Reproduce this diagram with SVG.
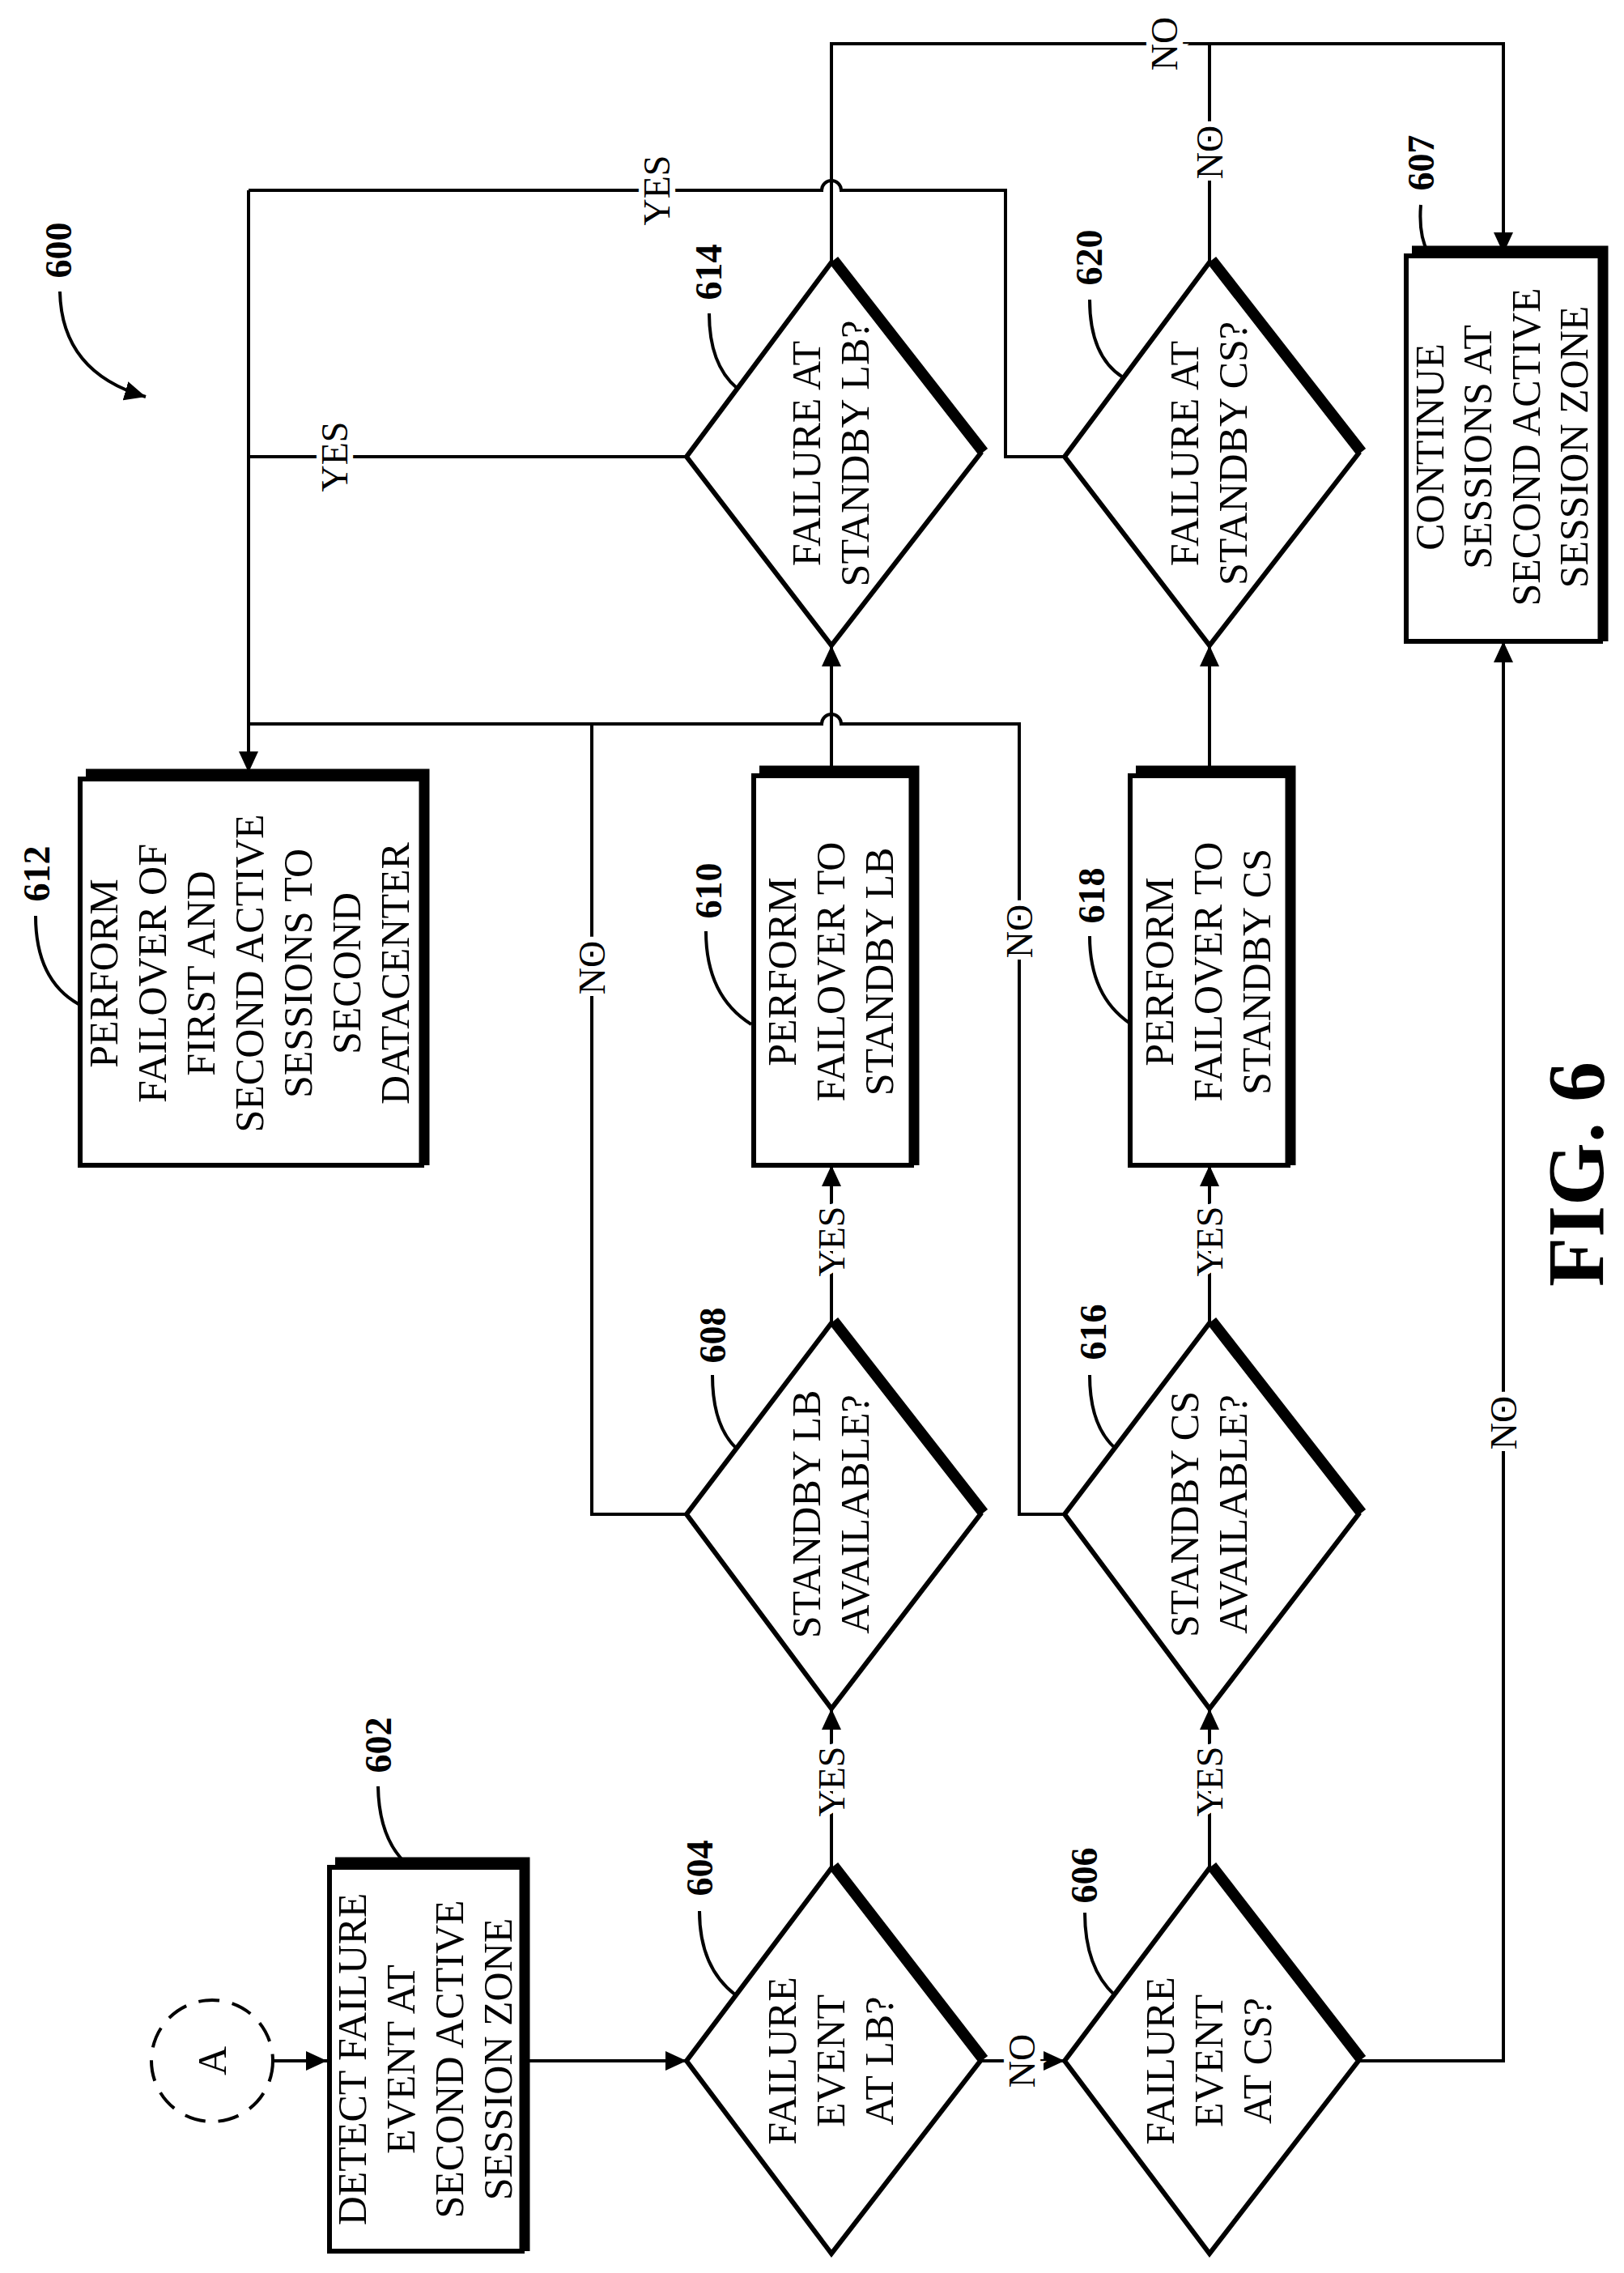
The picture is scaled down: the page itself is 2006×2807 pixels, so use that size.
<svg xmlns="http://www.w3.org/2000/svg" width="2006" height="2807" viewBox="0 0 2006 2807">
<style>
.t{font-family:"Liberation Serif","Times New Roman",serif;font-size:50px;fill:#000;text-anchor:middle;dominant-baseline:central}
.n{font-family:"Liberation Serif","Times New Roman",serif;font-size:46px;font-weight:bold;fill:#000;text-anchor:middle;dominant-baseline:central}
.l{font-family:"Liberation Serif","Times New Roman",serif;font-size:46px;fill:#000;text-anchor:middle;dominant-baseline:central;stroke:#fff;stroke-width:14px;paint-order:stroke}
.f{font-family:"Liberation Serif","Times New Roman",serif;font-size:100px;font-weight:bold;fill:#000;text-anchor:middle;dominant-baseline:central}
.b{fill:#fff;stroke:#000;stroke-width:6}
.s{fill:none;stroke:#000;stroke-width:13}
.c{fill:none;stroke:#000;stroke-width:4}
.ld{fill:none;stroke:#000;stroke-width:4}
</style>
<defs>
<marker id="ar" markerWidth="26" markerHeight="24" refX="26" refY="12" orient="auto" markerUnits="userSpaceOnUse"><path d="M0,0 L26,12 L0,24 Z" fill="#000"/></marker>
</defs>
<rect width="2006" height="2807" fill="#fff"/>

<g id="connectors">
<path class="c" d="M337,2545 H404" marker-end="url(#ar)"/>
<path class="c" d="M651,2545 H848" marker-end="url(#ar)"/>
<path class="c" d="M1211,2545 H1315" marker-end="url(#ar)"/>
<path class="c" d="M1027,2307 V2110" marker-end="url(#ar)"/>
<path class="c" d="M1494,2307 V2110" marker-end="url(#ar)"/>
<path class="c" d="M1027,1634 V1439" marker-end="url(#ar)"/>
<path class="c" d="M1494,1634 V1439" marker-end="url(#ar)"/>
<path class="c" d="M1027,958 V797" marker-end="url(#ar)"/>
<path class="c" d="M1494,958 V797" marker-end="url(#ar)"/>
<path class="c" d="M1678,2545 H1857 V792" marker-end="url(#ar)"/>
<path class="c" d="M1027,324 V54 H1857 V313" marker-end="url(#ar)"/>
<path class="c" d="M1494,324 V54"/>
<path class="c" d="M307,235 V954" marker-end="url(#ar)"/>
<path class="c" d="M848,564 H307"/>
<path class="c" d="M1315,564 H1242 V235 H1039 A12,12 0 0 0 1015,235 H307"/>
<path class="c" d="M848,1870 H731 V894"/>
<path class="c" d="M1315,1870 H1259 V894 H1039 A12,12 0 0 0 1015,894 H307"/>
<text class="l" transform="translate(811,235) rotate(-90)">YES</text>
<text class="l" transform="translate(413,564) rotate(-90)">YES</text>
<text class="l" transform="translate(1438,54) rotate(-90)">NO</text>
<text class="l" transform="translate(1494,188) rotate(-90)">NO</text>
<text class="l" transform="translate(731,1195) rotate(-90)">NO</text>
<text class="l" transform="translate(1259,1150) rotate(-90)">NO</text>
<text class="l" transform="translate(1027,1533) rotate(-90)">YES</text>
<text class="l" transform="translate(1494,1533) rotate(-90)">YES</text>
<text class="l" transform="translate(1027,2200) rotate(-90)">YES</text>
<text class="l" transform="translate(1494,2200) rotate(-90)">YES</text>
<text class="l" transform="translate(1262,2545) rotate(-90)">NO</text>
<text class="l" transform="translate(1857,1757) rotate(-90)">NO</text>
</g>

<g id="ref600">
<text class="n" transform="translate(72,309) rotate(-90)">600</text>
<path class="ld" d="M74,360 Q76,460 180,490" marker-end="url(#ar)"/>
</g>

<g id="nodeA">
<circle cx="262" cy="2545" r="75" fill="none" stroke="#000" stroke-width="4" stroke-dasharray="26,16"/>
<text class="t" transform="translate(262,2545) rotate(-90)">A</text>
</g>

<g id="n602">
<rect class="b" x="407" y="2306" width="238" height="474"/>
<path class="s" d="M414,2300 H648 V2780"/>
<text class="t" transform="translate(525,2543) rotate(-90)"><tspan x="0" y="-90">DETECT FAILURE</tspan><tspan x="0" y="-30">EVENT AT</tspan><tspan x="0" y="30">SECOND ACTIVE</tspan><tspan x="0" y="90">SESSION ZONE</tspan></text>
<text class="n" transform="translate(467,2155) rotate(-90)">602</text>
<path class="ld" d="M467,2206 Q468,2270 502,2302"/>
</g>

<g id="n604">
<path class="b" d="M1027,2307 L1211,2545 L1027,2783 L848,2545 Z"/>
<path class="s" d="M1030,2304 L1215,2543"/>
<text class="t" transform="translate(1026,2545) rotate(-90)"><tspan x="0" y="-60">FAILURE</tspan><tspan x="0" y="0">EVENT</tspan><tspan x="0" y="60">AT LB?</tspan></text>
<text class="n" transform="translate(864,2307) rotate(-90)">604</text>
<path class="ld" d="M864,2360 Q864,2430 909,2464"/>
</g>

<g id="n606">
<path class="b" d="M1494,2307 L1678,2545 L1494,2783 L1315,2545 Z"/>
<path class="s" d="M1497,2304 L1682,2543"/>
<text class="t" transform="translate(1493,2545) rotate(-90)"><tspan x="0" y="-60">FAILURE</tspan><tspan x="0" y="0">EVENT</tspan><tspan x="0" y="60">AT CS?</tspan></text>
<text class="n" transform="translate(1339,2316) rotate(-90)">606</text>
<path class="ld" d="M1340,2362 Q1340,2430 1377,2464"/>
</g>

<g id="n608">
<path class="b" d="M1027,1634 L1211,1870 L1027,2110 L848,1870 Z"/>
<path class="s" d="M1030,1631 L1215,1868"/>
<text class="t" transform="translate(1026,1870) rotate(-90)"><tspan x="0" y="-30">STANDBY LB</tspan><tspan x="0" y="30">AVAILABLE?</tspan></text>
<text class="n" transform="translate(880,1649) rotate(-90)">608</text>
<path class="ld" d="M880,1698 Q880,1760 909,1788"/>
</g>

<g id="n616">
<path class="b" d="M1494,1634 L1678,1870 L1494,2110 L1315,1870 Z"/>
<path class="s" d="M1497,1631 L1682,1868"/>
<text class="t" transform="translate(1493,1870) rotate(-90)"><tspan x="0" y="-30">STANDBY CS</tspan><tspan x="0" y="30">AVAILABLE?</tspan></text>
<text class="n" transform="translate(1350,1645) rotate(-90)">616</text>
<path class="ld" d="M1346,1698 Q1346,1760 1377,1788"/>
</g>

<g id="n610">
<rect class="b" x="931" y="958" width="195" height="481"/>
<path class="s" d="M938,952 H1129 V1439"/>
<text class="t" transform="translate(1026,1200) rotate(-90)"><tspan x="0" y="-60">PERFORM</tspan><tspan x="0" y="0">FAILOVER TO</tspan><tspan x="0" y="60">STANDBY LB</tspan></text>
<text class="n" transform="translate(875,1100) rotate(-90)">610</text>
<path class="ld" d="M872,1150 Q872,1230 928,1265"/>
</g>

<g id="n618">
<rect class="b" x="1396" y="958" width="195" height="481"/>
<path class="s" d="M1403,952 H1594 V1439"/>
<text class="t" transform="translate(1492,1200) rotate(-90)"><tspan x="0" y="-60">PERFORM</tspan><tspan x="0" y="0">FAILOVER TO</tspan><tspan x="0" y="60">STANDBY CS</tspan></text>
<text class="n" transform="translate(1348,1106) rotate(-90)">618</text>
<path class="ld" d="M1346,1156 Q1346,1230 1396,1264"/>
</g>

<g id="n612">
<rect class="b" x="99" y="962" width="422" height="477"/>
<path class="s" d="M106,956 H524 V1439"/>
<text class="t" transform="translate(308,1202) rotate(-90)"><tspan x="0" y="-180">PERFORM</tspan><tspan x="0" y="-120">FAILOVER OF</tspan><tspan x="0" y="-60">FIRST AND</tspan><tspan x="0" y="0">SECOND ACTIVE</tspan><tspan x="0" y="60">SESSIONS TO</tspan><tspan x="0" y="120">SECOND</tspan><tspan x="0" y="180">DATACENTER</tspan></text>
<text class="n" transform="translate(45,1079) rotate(-90)">612</text>
<path class="ld" d="M44,1131 Q44,1210 97,1240"/>
</g>

<g id="n614">
<path class="b" d="M1027,324 L1211,560 L1027,797 L848,564 Z"/>
<path class="s" d="M1030,321 L1215,558"/>
<text class="t" transform="translate(1026,560) rotate(-90)"><tspan x="0" y="-30">FAILURE AT</tspan><tspan x="0" y="30">STANDBY LB?</tspan></text>
<text class="n" transform="translate(875,336) rotate(-90)">614</text>
<path class="ld" d="M876,387 Q876,450 910,479"/>
</g>

<g id="n620">
<path class="b" d="M1494,324 L1678,560 L1494,797 L1315,564 Z"/>
<path class="s" d="M1497,321 L1682,558"/>
<text class="t" transform="translate(1493,560) rotate(-90)"><tspan x="0" y="-30">FAILURE AT</tspan><tspan x="0" y="30">STANDBY CS?</tspan></text>
<text class="n" transform="translate(1345,318) rotate(-90)">620</text>
<path class="ld" d="M1346,370 Q1346,440 1387,466"/>
</g>

<g id="n607">
<rect class="b" x="1737" y="316" width="240" height="476"/>
<path class="s" d="M1744,310 H1980 V792"/>
<text class="t" transform="translate(1855,552) rotate(-90)"><tspan x="0" y="-89">CONTINUE</tspan><tspan x="0" y="-30">SESSIONS AT</tspan><tspan x="0" y="30">SECOND ACTIVE</tspan><tspan x="0" y="89">SESSION ZONE</tspan></text>
<text class="n" transform="translate(1755,201) rotate(-90)">607</text>
<path class="ld" d="M1755,253 Q1752,290 1764,312"/>
</g>

<text class="f" transform="translate(1946,1450) rotate(-90)">FIG. 6</text>
</svg>
